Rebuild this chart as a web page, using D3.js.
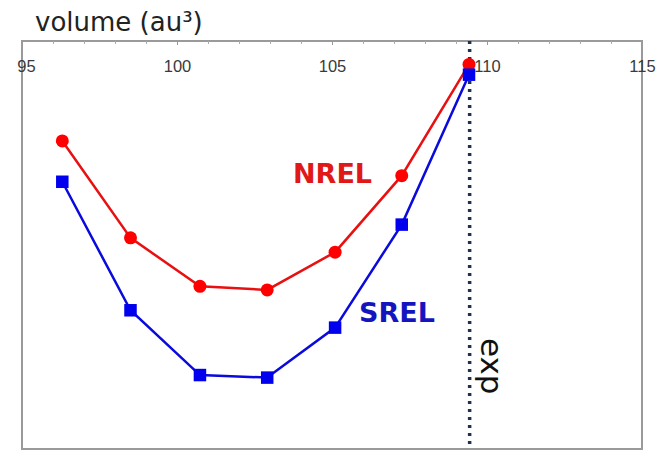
<!DOCTYPE html>
<html>
<head>
<meta charset="utf-8">
<script src="https://cdn.jsdelivr.net/npm/d3@7"></script>
<style>
  html, body { margin: 0; padding: 0; background: #fff; }
  svg { display: block; }
</style>
</head>
<body>
<svg id="chart" width="658" height="451"></svg>
<script>
// ---- data ----
const volumes   = [96.30, 98.50, 100.74, 102.91, 105.10, 107.25, 109.42];
const nrelValues = [30.2, 20.7, 15.95, 15.6, 19.3, 26.8, 37.7];
const srelValues = [26.2, 13.6, 7.25, 7.0, 11.9, 22.0, 36.7];
const xTicks    = [95, 100, 105, 110, 115];
const xMinorTicks = d3.range(95, 116, 1);
const expVolume = 109.44;
const seriesNames = ["NREL", "SREL"];
const titleText = "volume (au³)";
const expLabel = "exp";

// ---- layout ----
const W = 658, H = 451;
const margin = { top: 41, right: 16, bottom: 2, left: 22 };
const svg = d3.select("#chart");

const x = d3.scaleLinear().domain([95, 115]).range([margin.left, W - margin.right]);
const y = d3.scaleLinear().domain([0, 40]).range([H - margin.bottom, margin.top]);

// frame
svg.append("rect")
  .attr("x", margin.left).attr("y", margin.top)
  .attr("width", W - margin.right - margin.left)
  .attr("height", H - margin.bottom - margin.top)
  .attr("fill", "none").attr("stroke", "#9a9a9a").attr("stroke-width", 2);

// top axis minor ticks
const minorAxis = d3.axisTop(x).tickValues(xMinorTicks).tickSize(-3).tickFormat("");
const gm = svg.append("g").attr("transform", `translate(0,${margin.top})`).call(minorAxis);
gm.select(".domain").remove();
gm.selectAll(".tick line").attr("stroke", "#aaa").attr("stroke-width", 1);

// top axis major labels (placed inside plot)
const majorAxis = d3.axisTop(x).tickValues(xTicks).tickSize(-4).tickFormat(d3.format("d"));
const ga = svg.append("g").attr("transform", `translate(0,${margin.top})`).call(majorAxis);
ga.select(".domain").remove();
ga.selectAll(".tick line").attr("stroke", "#999").attr("stroke-width", 1);
ga.selectAll(".tick text")
  .attr("y", 31).attr("dy", 0)
  .attr("dx", (d, i) => i === 0 ? 4 : 0)
  .attr("font-family", "Liberation Sans, Arial, sans-serif")
  .attr("font-size", 16.5)
  .attr("fill", "#3a3a3a");

// title
svg.append("text")
  .attr("x", 35).attr("y", 31)
  .attr("font-family", "DejaVu Sans, sans-serif")
  .attr("font-size", 26)
  .attr("fill", "#222")
  .text(titleText);

// exp line
svg.append("line")
  .attr("x1", x(expVolume)).attr("x2", x(expVolume))
  .attr("y1", margin.top).attr("y2", H - margin.bottom)
  .attr("stroke", "#1c3350").attr("stroke-width", 3.5)
  .attr("stroke-dasharray", "3 5");

svg.append("text")
  .attr("transform", `translate(${x(expVolume) + 11},338) rotate(90)`)
  .attr("font-family", "DejaVu Sans, sans-serif")
  .attr("font-size", 31)
  .attr("fill", "#111")
  .text(expLabel);

const line = d3.line().x(d => x(d[0])).y(d => y(d[1]));
const nrel = volumes.map((v, i) => [v, nrelValues[i]]);
const srel = volumes.map((v, i) => [v, srelValues[i]]);

// NREL
svg.append("path").datum(nrel).attr("d", line)
  .attr("fill", "none").attr("stroke", "#e81010").attr("stroke-width", 2.5);
svg.selectAll("circle.nrel").data(nrel).enter().append("circle")
  .attr("class", "nrel")
  .attr("cx", d => x(d[0])).attr("cy", d => y(d[1])).attr("r", 6.5)
  .attr("fill", "#ff0000");

// SREL
svg.append("path").datum(srel).attr("d", line)
  .attr("fill", "none").attr("stroke", "#0a0adc").attr("stroke-width", 2.5);
const s = 12.5;
svg.selectAll("rect.srel").data(srel).enter().append("rect")
  .attr("class", "srel")
  .attr("x", d => x(d[0]) - s / 2).attr("y", d => y(d[1]) - s / 2)
  .attr("width", s).attr("height", s)
  .attr("fill", "#0000ee");

// series labels
svg.append("text")
  .attr("x", 293).attr("y", 183)
  .attr("font-family", "DejaVu Sans, sans-serif")
  .attr("font-size", 27).attr("font-weight", "bold")
  .attr("fill", "#e01818")
  .text(seriesNames[0]);
svg.append("text")
  .attr("x", 359).attr("y", 322)
  .attr("font-family", "DejaVu Sans, sans-serif")
  .attr("font-size", 27).attr("font-weight", "bold")
  .attr("fill", "#1515c0")
  .text(seriesNames[1]);
</script>
</body>
</html>
